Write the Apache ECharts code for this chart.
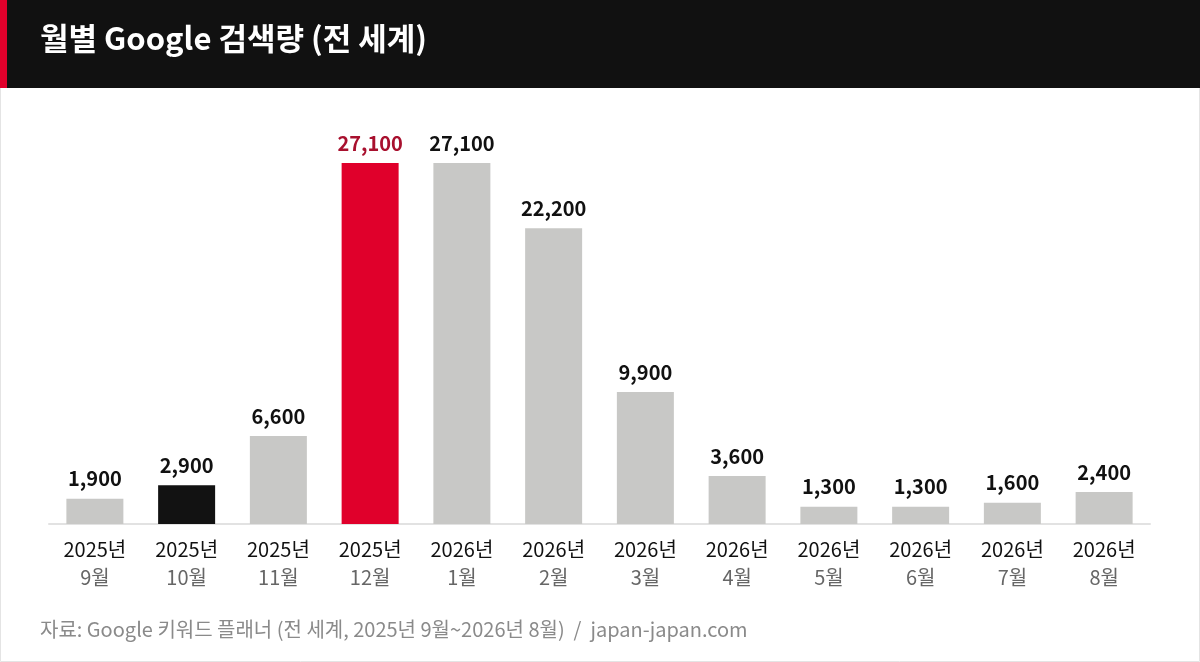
<!DOCTYPE html>
<html>
<head>
<meta charset="utf-8">
<script src="https://cdn.jsdelivr.net/npm/echarts@6/dist/echarts.min.js"></script>
<style>
  html, body { margin: 0; padding: 0; background: #fff; }
  #chart { width: 1200px; height: 662px; }
</style>
</head>
<body>
<div id="chart"></div>
<script>
// 월별 검색량 데이터
const years = ['2025년', '2025년', '2025년', '2025년', '2026년', '2026년', '2026년', '2026년', '2026년', '2026년', '2026년', '2026년']
const months = ['9월', '10월', '11월', '12월', '1월', '2월', '3월', '4월', '5월', '6월', '7월', '8월']
const volumes = [1900, 2900, 6600, 27100, 27100, 22200, 9900, 3600, 1300, 1300, 1600, 2400]
const highlight = { 1: 'black', 3: 'red' }

const FONT = '"Noto Sans CJK KR", "Noto Sans", sans-serif'
const colors = { gray: '#c8c8c6', black: '#121212', red: '#e0002b' }

const chart = echarts.init(document.getElementById('chart'))

chart.setOption({
  backgroundColor: '#fff',
  animation: false,
  textStyle: { fontFamily: FONT },
  graphic: [
    // 테두리
    { type: 'rect', shape: { x: 0.5, y: 0.5, width: 1199, height: 661 }, style: { fill: 'none', stroke: '#e4e4e4', lineWidth: 1 }, z: 0 },
    // 헤더
    { type: 'rect', shape: { x: 0, y: 0, width: 1200, height: 88 }, style: { fill: '#111111' }, z: 1 },
    { type: 'rect', shape: { x: 0, y: 0, width: 7, height: 88 }, style: { fill: '#e0002b' }, z: 2 },
    {
      type: 'text', left: 40, top: 23, z: 3,
      style: { text: '월별 Google 검색량 (전 세계)', fill: '#fff', font: 'bold 31px ' + FONT }
    },
    {
      type: 'text', left: 40, top: 619, z: 3,
      style: { text: '자료: Google 키워드 플래너 (전 세계, 2025년 9월~2026년 8월)  /  japan-japan.com', fill: '#8a8a8a', font: '20px ' + FONT }
    }
  ],
  grid: { left: 49, right: 50, top: 163, bottom: 138, containLabel: false },
  xAxis: {
    type: 'category',
    data: months.map((m, i) => years[i] + '\n' + m),
    axisLine: { lineStyle: { color: '#e2e2e2', width: 2 } },
    axisTick: { show: false },
    axisLabel: {
      margin: 11,
      formatter: (v) => {
        const [y, m] = v.split('\n')
        return '{y|' + y + '}\n{m|' + m + '}'
      },
      rich: {
        y: { fontSize: 20, color: '#111', lineHeight: 28, fontFamily: FONT },
        m: { fontSize: 20, color: '#666', lineHeight: 28, fontFamily: FONT }
      }
    }
  },
  yAxis: {
    type: 'value',
    min: 0,
    max: 27100,
    show: false,
    splitLine: { show: false }
  },
  series: [{
    type: 'bar',
    barWidth: 57,
    data: volumes.map((v, i) => ({
      value: v,
      itemStyle: { color: colors[highlight[i] || 'gray'] },
      label: highlight[i] === 'red' ? { color: '#a8102e' } : undefined
    })),
    label: {
      show: true,
      position: 'top',
      distance: 10,
      fontSize: 20,
      fontWeight: 'bold',
      color: '#111',
      fontFamily: FONT,
      formatter: (p) => p.value.toLocaleString('en-US')
    }
  }]
})
</script>
</body>
</html>
